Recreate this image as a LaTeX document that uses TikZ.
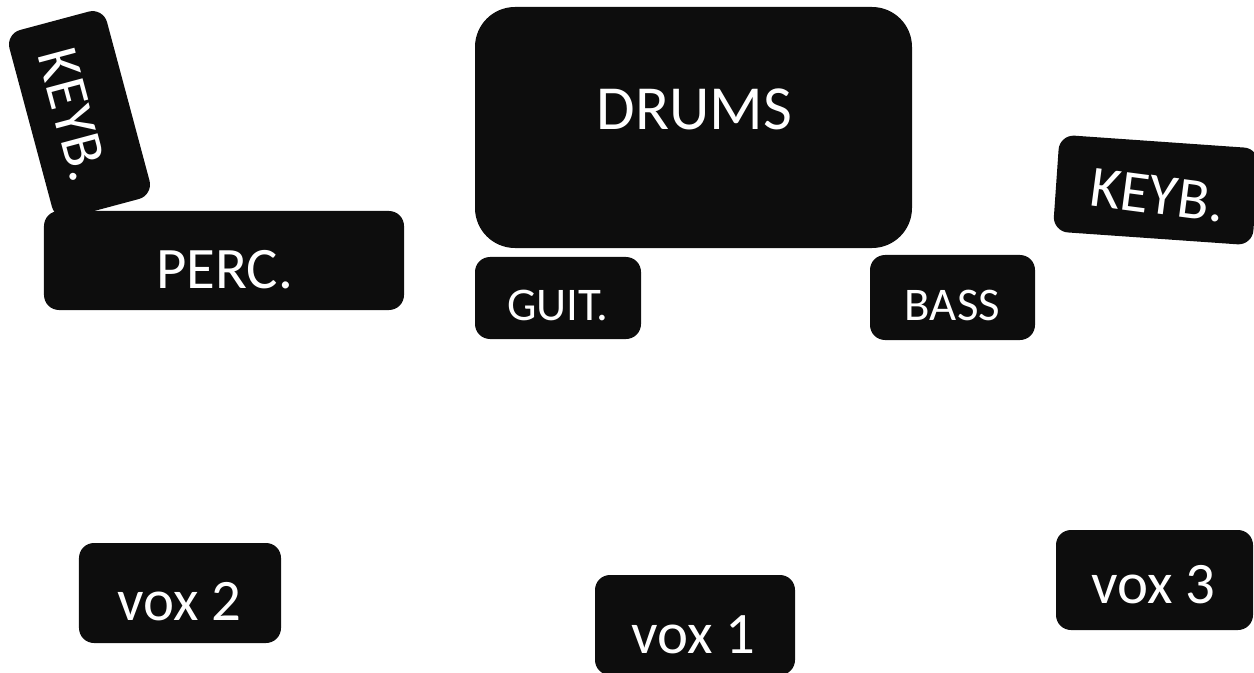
\documentclass[tikz,border=0pt]{standalone}
\usepackage{fontspec}
\setmainfont{Carlito}
\definecolor{boxfill}{RGB}{13,13,13}
\begin{document}
\begin{tikzpicture}[x=1bp,y=-1bp,
  box/.style={fill=boxfill, draw=none, rounded corners=15bp, inner sep=0pt, shape=rectangle},
  lbl/.style={text=white, inner sep=0pt, anchor=base},
  big/.style={font=\fontsize{63}{63}\selectfont},
  mid/.style={font=\fontsize{59}{59}\selectfont},
  small/.style={font=\fontsize{47}{47}\selectfont}]
\useasboundingbox (0,0) rectangle (1254,673);
% boxes
\node[box, rotate=-75, minimum width=194bp, minimum height=101bp] (keybL) at (79.5,114.5) {};
\node[box, minimum width=360bp, minimum height=99bp] (perc) at (224,260.5) {};
\node[box, rounded corners=40bp, minimum width=437bp, minimum height=241bp] (drums) at (693.5,127.5) {};
\node[box, minimum width=166bp, minimum height=82bp] (guit) at (558,298) {};
\node[box, minimum width=165bp, minimum height=85bp] (bass) at (952.5,297.5) {};
\node[box, rotate=-4, minimum width=200bp, minimum height=97bp] (keybR) at (1156,190) {};
\node[box, minimum width=202bp, minimum height=100bp] (vox2) at (180,593) {};
\node[box, minimum width=200bp, minimum height=100bp] (vox1) at (695,625) {};
\node[box, minimum width=197bp, minimum height=100bp] (vox3) at (1154.5,580) {};
% labels
\node[lbl, mid, rotate=-75] (keybLt) at (55,120) {KEYB.};
\node[lbl, mid] (perct) at (224.5,288) {PERC.};
\node[lbl, big] (drumst) at (694.5,130) {DRUMS};
\node[lbl, small] (guitt) at (558,320) {GUIT.};
\node[lbl, small] (basst) at (952.5,320) {BASS};
\node[lbl, mid, rotate=-7.5] (keybRt) at (1155,214) {KEYB.};
\node[lbl, mid] (vox2t) at (179.5,620) {vox 2};
\node[lbl, mid] (vox1t) at (693.5,653) {vox 1};
\node[lbl, mid] (vox3t) at (1153.5,603) {vox 3};
\end{tikzpicture}
\end{document}
